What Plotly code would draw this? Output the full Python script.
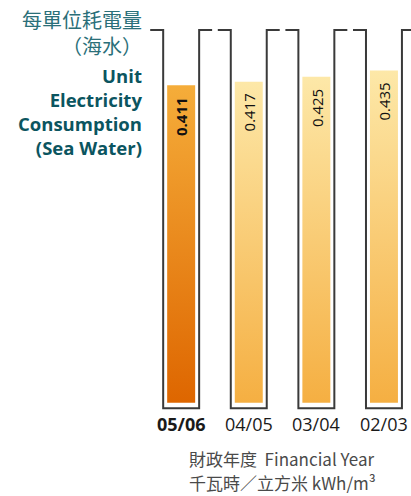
import plotly.graph_objects as go

# ---- data ----
years = ["05/06", "04/05", "03/04", "02/03"]
values = [0.411, 0.417, 0.425, 0.435]
value_labels = ["0.411", "0.417", "0.425", "0.435"]
highlight = [True, False, False, False]

title_zh = ["每單位耗電量", "（海水）"]
title_en = ["Unit", "Electricity", "Consumption", "(Sea Water)"]
xlabel_lines = ["財政年度  Financial Year", "千瓦時／立方米 kWh/m³"]

# ---- styling / layout constants ----
W, H = 411, 496
AXIS_MIN = -0.105          # value at which the bars start (bottom of scale)
Y_RANGE = [-0.2567, 0.5498]
X_RANGE = [-2.68, 3.40]
BAR_HALF = 0.207
TUBE_HALF = 0.266
TICK_LEN = 0.192
TUBE_TOP = 0.501
TUBE_BOTTOM = -0.114

HI_COLORS = ["#DE6600", "#F5AD3A"]   # bottom, top
LO_COLORS = ["#F5AF42", "#FDE8A8"]

FONT = "Open Sans, Noto Sans CJK TC, sans-serif"
CJK = "Noto Sans CJK TC, Open Sans, sans-serif"
TEAL = "#0B5560"
TEAL_LIGHT = "#2A6F79"

fig = go.Figure()

# tubes (container outlines)
for i in range(len(years)):
    xl, xr = i - TUBE_HALF, i + TUBE_HALF
    fig.add_trace(go.Scatter(
        x=[xl - TICK_LEN, xl, xl, xr, xr, xr + TICK_LEN],
        y=[TUBE_TOP, TUBE_TOP, TUBE_BOTTOM, TUBE_BOTTOM, TUBE_TOP, TUBE_TOP],
        mode="lines", line=dict(color="#3a3a3a", width=2),
        hoverinfo="skip", showlegend=False))

# gradient bars
for i, (v, hi) in enumerate(zip(values, highlight)):
    cols = HI_COLORS if hi else LO_COLORS
    x0, x1 = i - BAR_HALF, i + BAR_HALF
    fig.add_trace(go.Scatter(
        x=[x0, x1, x1, x0, x0],
        y=[AXIS_MIN, AXIS_MIN, v, v, AXIS_MIN],
        mode="lines", line=dict(width=0), fill="toself",
        fillgradient=dict(type="vertical",
                          colorscale=[[0, cols[0]], [1, cols[1]]]),
        hovertemplate=f"{years[i]}: {v}<extra></extra>",
        showlegend=False))

annotations = []
# value labels (rotated)
for i, (v, lab, hi) in enumerate(zip(values, value_labels, highlight)):
    annotations.append(dict(
        x=i, y=v, xref="x", yref="y", text=f"<b>{lab}</b>" if hi else lab,
        textangle=-90, showarrow=False, xanchor="center", yanchor="top",
        yshift=-10, font=dict(family=FONT, size=15, color="#111")))

# category labels
for i, (yr, hi) in enumerate(zip(years, highlight)):
    annotations.append(dict(
        x=i, y=1 - 424 / H, xref="x", yref="paper",
        text=f"<b>{yr}</b>" if hi else yr, showarrow=False,
        xanchor="center", yanchor="middle", borderpad=0,
        font=dict(family=FONT, size=18, color="#1a1a1a")))

# left title: Chinese block and English block
annotations.append(dict(
    x=143 / W, y=1 - 6 / H, xref="paper", yref="paper",
    text="<br>".join(title_zh), align="right",
    showarrow=False, xanchor="right", yanchor="top", borderpad=0,
    font=dict(family=FONT, size=20, color=TEAL_LIGHT)))
annotations.append(dict(
    x=143 / W, y=1 - 160.5 / H, xref="paper", yref="paper",
    text="<br>".join(f"<b>{t}</b>" for t in title_en), align="right",
    showarrow=False, xanchor="right", yanchor="bottom", borderpad=0,
    font=dict(family=FONT, size=18.5, color=TEAL)))

# bottom axis caption
for t, yy in zip(xlabel_lines, [458, 482]):
    annotations.append(dict(
        x=282 / W, y=1 - yy / H, xref="paper", yref="paper", text=t,
        showarrow=False, xanchor="center", yanchor="middle", borderpad=0,
        font=dict(family=CJK, size=17, color="#4a4a4a")))

fig.update_layout(
    width=W, height=H, margin=dict(l=0, r=0, t=0, b=0),
    paper_bgcolor="white", plot_bgcolor="white",
    xaxis=dict(range=X_RANGE, visible=False, fixedrange=True),
    yaxis=dict(range=Y_RANGE, visible=False, fixedrange=True),
    annotations=annotations, showlegend=False)

fig.write_html("out.html")
